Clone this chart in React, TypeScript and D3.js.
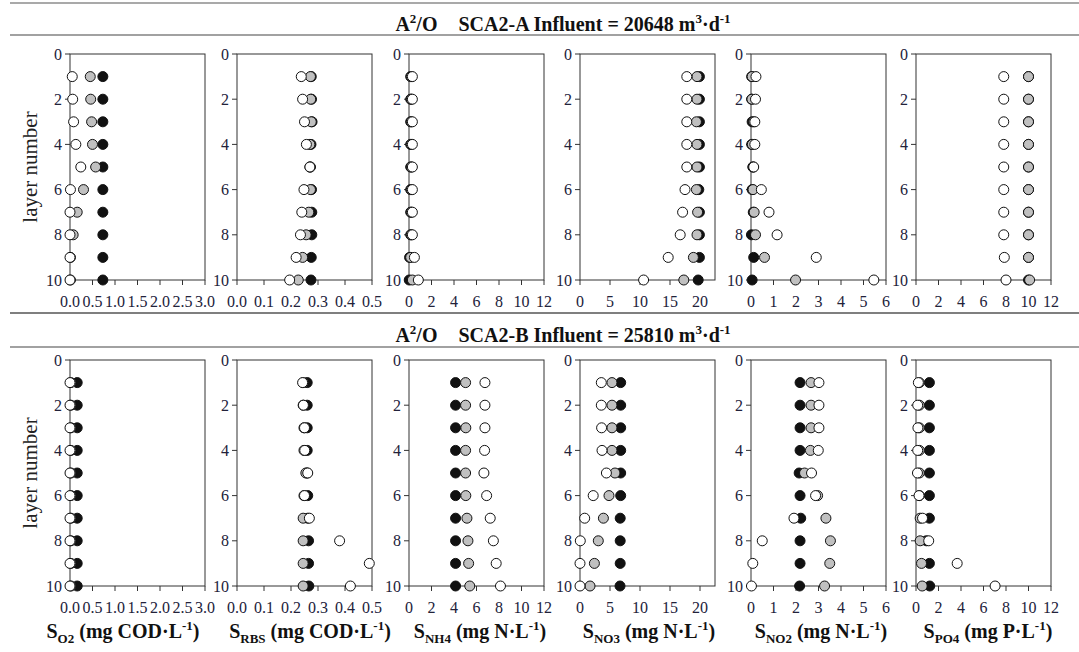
import React from 'react';
import * as d3 from 'd3';

// layer numbers that carry points
const layers = [1, 2, 3, 4, 5, 6, 7, 8, 9, 10];

// SCA2-A (Influent = 20648)
const aSO2Black = [0.73, 0.73, 0.73, 0.73, 0.73, 0.73, 0.73, 0.73, 0.73, 0.73];
const aSO2Grey = [0.45, 0.46, 0.48, 0.5, 0.57, 0.3, 0.16, 0.07, 0.01, 0.01];
const aSO2White = [0.05, 0.06, 0.08, 0.13, 0.24, 0.01, 0, 0, 0, 0];

const aRBSBlack = [0.275, 0.276, 0.278, 0.274, 0.272, 0.276, 0.277, 0.277, 0.275, 0.274];
const aRBSGrey = [0.272, 0.273, 0.275, 0.27, 0.27, 0.272, 0.266, 0.256, 0.243, 0.227];
const aRBSWhite = [0.238, 0.243, 0.25, 0.257, 0.27, 0.248, 0.24, 0.235, 0.219, 0.195];

const aNH4Black = [0.15, 0.15, 0.15, 0.15, 0.15, 0.15, 0.15, 0.15, 0.05, 0.02];
const aNH4Grey = [0.2, 0.2, 0.2, 0.2, 0.2, 0.2, 0.2, 0.2, 0.15, 0.3];
const aNH4White = [0.3, 0.3, 0.3, 0.3, 0.3, 0.3, 0.3, 0.3, 0.48, 0.83];

const aNO3Black = [19.9, 19.9, 19.9, 19.9, 19.9, 19.8, 19.9, 19.9, 19.9, 19.7];
const aNO3Grey = [19.5, 19.5, 19.4, 19.5, 19.5, 19.4, 19.6, 19.5, 18.9, 17.3];
const aNO3White = [17.8, 17.8, 17.8, 17.8, 17.8, 17.5, 17.1, 16.7, 14.7, 10.6];

const aNO2Black = [0.03, 0.03, 0.05, 0.03, 0.08, 0.05, 0.1, 0.02, 0.12, 0.05];
const aNO2Grey = [0.05, 0.04, 0.12, 0.06, 0.1, 0.09, 0.14, 0.2, 0.6, 1.98];
const aNO2White = [0.22, 0.2, 0.17, 0.17, 0.12, 0.46, 0.8, 1.16, 2.9, 5.46];

const aPO4Black = [10.0, 10.0, 10.0, 10.0, 10.0, 10.0, 10.0, 10.0, 10.0, 10.0];
const aPO4Grey = [10.0, 10.0, 10.0, 10.0, 10.0, 10.0, 10.0, 10.0, 10.0, 10.1];
const aPO4White = [7.8, 7.8, 7.8, 7.8, 7.8, 7.8, 7.8, 7.8, 7.85, 8.0];

// SCA2-B (Influent = 25810)
const bSO2Black = [0.16, 0.16, 0.16, 0.16, 0.16, 0.16, 0.16, 0.16, 0.16, 0.16];
const bSO2Grey = [0.02, 0.02, 0.02, 0.02, 0.02, 0.02, 0.02, 0.02, 0.02, 0.02];
const bSO2White = [0, 0, 0, 0, 0, 0, 0, 0, 0, 0];

const bRBSBlack = [0.26, 0.26, 0.26, 0.26, 0.26, 0.262, 0.262, 0.265, 0.265, 0.266];
const bRBSGrey = [0.245, 0.245, 0.248, 0.248, 0.255, 0.248, 0.245, 0.245, 0.245, 0.245];
const bRBSWhite = [0.243, 0.246, 0.25, 0.251, 0.262, 0.25, 0.268, 0.38, 0.49, 0.42];

const bNH4Black = [4.14, 4.14, 4.14, 4.14, 4.14, 4.14, 4.14, 4.14, 4.14, 4.14];
const bNH4Grey = [5.03, 5.03, 5.05, 5.03, 5.03, 5.05, 5.15, 5.24, 5.3, 5.4];
const bNH4White = [6.75, 6.75, 6.75, 6.72, 6.66, 6.9, 7.22, 7.5, 7.75, 8.13];

const bNO3Black = [6.78, 6.78, 6.78, 6.78, 6.78, 6.78, 6.7, 6.7, 6.7, 6.67];
const bNO3Grey = [5.33, 5.33, 5.33, 5.33, 5.83, 4.83, 3.9, 3.05, 2.4, 1.67];
const bNO3White = [3.55, 3.55, 3.6, 3.67, 4.4, 2.2, 0.78, 0.05, 0, 0];

const bNO2Black = [2.18, 2.18, 2.18, 2.18, 2.14, 2.18, 2.21, 2.18, 2.18, 2.16];
const bNO2Grey = [2.67, 2.67, 2.67, 2.64, 2.38, 2.96, 3.33, 3.53, 3.5, 3.27];
const bNO2White = [3.02, 3.02, 3.02, 2.99, 2.69, 2.87, 1.91, 0.5, 0.08, 0.02];

const bPO4Black = [1.19, 1.19, 1.19, 1.19, 1.19, 1.19, 1.19, 0.92, 1.19, 1.22];
const bPO4Grey = [0.3, 0.3, 0.3, 0.3, 0.3, 0.3, 0.37, 0.37, 0.49, 0.55];
const bPO4White = [0.21, 0.15, 0.17, 0.15, 0.13, 0.27, 0.58, 1.13, 3.66, 7.03];

// axes
const xMax = [3, 0.5, 12, 22.5, 6, 12];
const xTicks = [
  [0, 0.5, 1, 1.5, 2, 2.5, 3],
  [0, 0.1, 0.2, 0.3, 0.4, 0.5],
  [0, 2, 4, 6, 8, 10, 12],
  [0, 5, 10, 15, 20],
  [0, 1, 2, 3, 4, 5, 6],
  [0, 2, 4, 6, 8, 10, 12],
];
const xFormat = ['.1f', '.1f', 'd', 'd', 'd', 'd'];
const yTicks = [0, 2, 4, 6, 8, 10];
const varNames = ['O2', 'RBS', 'NH4', 'NO3', 'NO2', 'PO4'];
const varUnits = ['mg COD·L', 'mg COD·L', 'mg N·L', 'mg N·L', 'mg N·L', 'mg P·L'];
const influents = ['20648', '25810'];
const plantIds = ['SCA2-A', 'SCA2-B'];

const rowA = [
  [aSO2Black, aSO2Grey, aSO2White],
  [aRBSBlack, aRBSGrey, aRBSWhite],
  [aNH4Black, aNH4Grey, aNH4White],
  [aNO3Black, aNO3Grey, aNO3White],
  [aNO2Black, aNO2Grey, aNO2White],
  [aPO4Black, aPO4Grey, aPO4White],
];
const rowB = [
  [bSO2Black, bSO2Grey, bSO2White],
  [bRBSBlack, bRBSGrey, bRBSWhite],
  [bNH4Black, bNH4Grey, bNH4White],
  [bNO3Black, bNO3Grey, bNO3White],
  [bNO2Black, bNO2Grey, bNO2White],
  [bPO4Black, bPO4Grey, bPO4White],
];

const W = 1079;
const H = 652;
const FONT = '"Liberation Serif", "Times New Roman", serif';
const panelLeft = [70, 237, 409, 580, 751, 916];
const panelW = 135;
const rowTop = [54, 360];
const plotH = 226;
const fills = ['#111', '#c0c0c0', '#fff'];
const labelCenter = [123, 310, 480, 649, 821, 988];
const tickColor = '#22223a';

function Panel({ left, top, idx, series, showYLabel }) {
  const x = d3.scaleLinear().domain([0, xMax[idx]]).range([left, left + panelW]);
  const y = d3.scaleLinear().domain([0, 10]).range([top, top + plotH]);
  const fmt = d3.format(xFormat[idx]);
  const bottom = top + plotH;
  return (
    <g>
      <rect x={left} y={top} width={panelW} height={plotH} fill="none" stroke="#333" strokeWidth={1} />
      {yTicks.map((t) => (
        <g key={'y' + t}>
          <line x1={left - 5} x2={left} y1={y(t)} y2={y(t)} stroke="#333" />
          <text x={left - 8} y={y(t)} dy="0.35em" textAnchor="end" fontSize={16} fill={tickColor}>
            {t}
          </text>
        </g>
      ))}
      {xTicks[idx].map((t) => (
        <g key={'x' + t}>
          <line x1={x(t)} x2={x(t)} y1={bottom} y2={bottom + 5} stroke="#333" />
          <text x={x(t)} y={bottom + 27} textAnchor="middle" fontSize={16} fill={tickColor}>
            {fmt(t)}
          </text>
        </g>
      ))}
      {series.map((vals, s) => (
        <g key={'s' + s}>
          {vals.map((v, i) => (
            <circle key={i} cx={x(v)} cy={y(layers[i])} r={5} fill={fills[s]} stroke="#111" strokeWidth={1} />
          ))}
        </g>
      ))}
      {showYLabel && (
        <text
          transform={`translate(37,${top + plotH / 2}) rotate(-90)`}
          textAnchor="middle"
          fontSize={21}
          fill="#222"
        >
          layer number
        </text>
      )}
    </g>
  );
}

function Title({ y, r }) {
  return (
    <text x={563} y={y} textAnchor="middle" fontSize={20} fontWeight="bold" fill="#111">
      <tspan>A</tspan>
      <tspan dy={-8} fontSize={13}>2</tspan>
      <tspan dy={8}>/O</tspan>
      <tspan dx={21}>{plantIds[r]} Influent = {influents[r]} m</tspan>
      <tspan dy={-8} fontSize={13}>3</tspan>
      <tspan dy={8}>·d</tspan>
      <tspan dy={-8} fontSize={13}>-1</tspan>
    </text>
  );
}

export default function App() {
  return (
    <div style={{ position: 'fixed', left: 0, top: 0 }}>
      <svg width={W} height={H} fontFamily={FONT} style={{ display: 'block', background: '#fff' }}>
        <line x1={10} x2={W} y1={3} y2={3} stroke="#555" strokeWidth={1.2} />
        <line x1={10} x2={W} y1={35} y2={35} stroke="#444" strokeWidth={1.2} />
        <line x1={10} x2={W} y1={313} y2={313} stroke="#555" strokeWidth={1.5} />
        <line x1={10} x2={W} y1={347} y2={347} stroke="#444" strokeWidth={1.2} />
        <Title y={31} r={0} />
        <Title y={342} r={1} />
        {rowA.map((series, i) => (
          <Panel key={'a' + i} left={panelLeft[i]} top={rowTop[0]} idx={i} series={series} showYLabel={i === 0} />
        ))}
        {rowB.map((series, i) => (
          <Panel key={'b' + i} left={panelLeft[i]} top={rowTop[1]} idx={i} series={series} showYLabel={i === 0} />
        ))}
        {varNames.map((n, i) => (
          <text key={n} x={labelCenter[i]} y={638} textAnchor="middle" fontSize={20} fontWeight="bold" fill="#111">
            <tspan>S</tspan>
            <tspan dy={5} fontSize={13}>{n}</tspan>
            <tspan dy={-5}> ({varUnits[i]}</tspan>
            <tspan dy={-8} fontSize={13}>-1</tspan>
            <tspan dy={8}>)</tspan>
          </text>
        ))}
      </svg>
    </div>
  );
}
